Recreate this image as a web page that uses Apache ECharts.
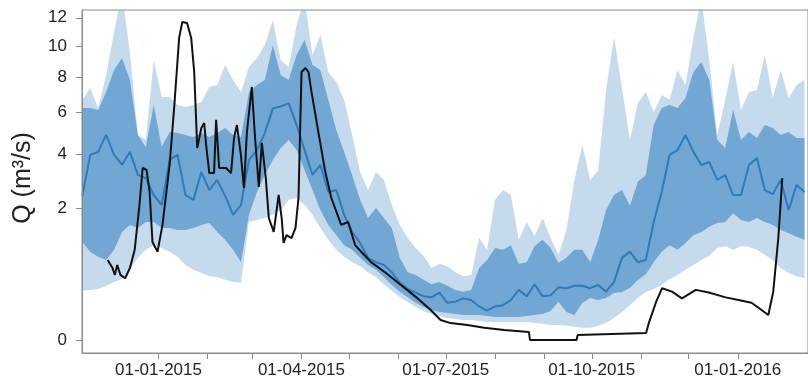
<!DOCTYPE html>
<html>
<head>
<meta charset="utf-8">
<script src="https://cdn.jsdelivr.net/npm/echarts@6/dist/echarts.min.js"></script>
<style>
html,body{margin:0;padding:0;background:#ffffff;}
#chart{width:808px;height:383px;}
</style>
</head>
<body>
<div id="chart"></div>
<script>
// x values: days since 01-01-2015
const bandDays = [-48,-43,-38,-33,-28,-23,-18,-13,-8,-3,2,7,12,17,22,27,32,37,42,47,52,57,62,67,72,77,82,87,92,97,102,107,112,117,122,127,132,137,142,147,152,157,162,167,172,177,182,187,192,197,202,207,212,217,222,227,232,237,242,247,252,257,262,267,272,277,282,287,292,297,302,307,312,317,322,327,332,337,342,347,352,357,362,367,372,377,382,387,392,397,402,407];

// outer (light) band, m3/s
const outerHigh = [6.66,7.34,6.22,8.12,10.97,14,9.52,4.86,4.62,9.06,
 6.83,6.83,6.39,6.28,6.39,6.55,7.40,7.52,8.74,7.82,
 7.11,8.62,9.19,10.06,11.84,9.06,8.62,11.47,13.5,9.39,
 10.76,8.30,7.70,6.66,4.86,3.26,2.60,3.26,2.96,2.11,
 1.53,1.20,0.98,0.82,0.60,0.67,0.63,0.53,0.47,0.49,
 1.20,0.94,2.27,2.60,2.43,1.16,1.61,1.25,1.72,1.20,
 0.84,1.40,2.96,4.40,2.96,3.34,7.23,10.61,7.34,4.62,
 6.49,7.11,6.01,6.94,6.66,8.43,7.52,10.55,13.5,9.06,
 4.86,6.66,8.94,6.12,7.11,7.23,9.39,6.77,8.43,6.77,
 7.52,7.82];
const outerLow = [0.28,0.29,0.30,0.34,0.39,0.43,0.57,0.78,0.94,1.04,
 0.98,0.90,0.80,0.65,0.57,0.52,0.47,0.46,0.42,0.39,
 0.38,1.61,1.665,1.72,1.81,1.95,2.27,2.33,2.11,1.81,
 1.45,1.16,0.94,0.80,0.70,0.63,0.53,0.46,0.36,0.28,
 0.21,0.167,0.126,0.097,0.078,0.067,0.056,0.051,0.046,0.046,
 0.042,0.037,0.037,0.037,0.037,0.037,0.037,0.033,0.030,0.026,
 0.026,0.023,0.020,0.017,0.017,0.023,0.033,0.056,0.091,0.142,
 0.204,0.266,0.30,0.35,0.43,0.49,0.57,0.65,0.74,0.82,
 0.98,1.02,0.94,1.02,1.00,0.94,0.84,0.74,0.60,0.52,
 0.47,0.44];

// inner (medium) band, m3/s
const innerHigh = [6.22,6.22,6.12,7.11,8.43,9.19,7.82,4.86,4.31,6.39,
 4.31,5.00,4.95,4.86,4.76,4.95,4.76,4.95,5.20,4.86,
 4.76,7.11,7.52,7.82,10.06,8.12,7.82,9.39,10.41,8.74,
 8.43,6.66,5.10,4.09,3.15,2.27,1.72,2.01,1.72,1.45,
 0.78,0.53,0.49,0.42,0.36,0.39,0.34,0.29,0.27,0.29,
 0.60,0.74,0.98,0.94,1.04,0.67,0.70,1.02,1.16,0.98,
 0.69,0.78,0.94,0.94,0.70,1.16,1.95,2.43,2.60,2.08,
 2.89,3.15,5.34,6.22,6.39,6.22,6.77,8.30,8.94,7.82,
 4.62,4.26,6.12,4.62,5.00,4.72,5.34,5.20,4.86,5.00,
 4.72,4.72];
const innerLow = [1.11,0.90,0.80,0.74,0.94,1.35,1.53,1.45,1.61,1.61,
 1.45,1.45,1.40,1.40,1.45,1.53,1.58,1.35,1.16,0.94,
 0.70,1.81,2.53,3.15,3.75,4.26,4.62,4.17,3.34,2.60,
 1.95,1.53,1.27,1.04,0.94,0.78,0.65,0.57,0.46,0.35,
 0.27,0.21,0.16,0.126,0.104,0.091,0.084,0.078,0.072,0.072,
 0.072,0.067,0.061,0.061,0.061,0.061,0.067,0.072,0.078,0.097,
 0.167,0.091,0.072,0.158,0.204,0.185,0.204,0.255,0.266,0.313,
 0.416,0.50,0.70,0.90,1.04,0.94,1.09,1.27,1.35,1.48,
 1.58,1.61,1.86,1.665,1.61,1.72,1.61,1.53,1.40,1.32,
 1.23,1.16];

// median, m3/s
const median = [2.40,3.96,4.09,4.86,3.96,3.55,4.09,3.15,3.03,2.43,
 2.11,3.75,3.96,2.43,2.27,3.26,2.60,2.96,2.40,1.81,
 2.11,3.75,4.17,4.95,6.20,6.30,6.49,5.34,4.17,3.15,
 3.54,2.53,2.60,1.81,1.35,1.09,0.78,0.70,0.65,0.53,
 0.38,0.30,0.26,0.22,0.21,0.26,0.16,0.17,0.20,0.185,
 0.13,0.10,0.13,0.14,0.185,0.29,0.22,0.36,0.22,0.23,
 0.32,0.31,0.34,0.34,0.31,0.35,0.27,0.39,0.78,0.90,
 0.70,0.74,1.61,2.53,3.96,4.17,4.86,4.09,3.54,3.66,
 2.96,3.15,2.43,2.43,3.54,3.83,2.60,2.46,2.96,1.95,
 2.78,2.53];

// observed discharge
const obsDays = [-32,-29,-27.5,-26,-24,-21,-18,-15,-12,-10,-7.5,-5.6,-3.8,-0.6,2.5,7,10,13,15,18,20.6,22.5,24.4,27,28.8,30,32,35,36.3,38.2,42.6,45.7,47.6,49.4,51.9,53.8,55.7,58.8,60.7,63.2,65.1,67.6,69.5,72.6,75.7,77.6,78.8,80.7,83.8,86.3,88.2,90.1,92.6,94.5,96.4,100.7,105.1,108.9,115.1,119.5,123.9,127.7,133.9,142.7,152.7,163.3,171.5,177.7,184,194.6,205.2,217.8,233.4,234,263.4,264.1,307.2,309.1,313.5,317.3,323.5,329.8,338.5,346.7,357.3,365.4,373.6,378,384.2,387.3,390.5,393];
const obsQ = [0.74,0.60,0.49,0.65,0.49,0.44,0.60,0.94,2.11,3.42,3.34,2.53,1.11,0.90,1.53,3.54,6.39,10.55,11.69,11.62,10.55,8.30,4.26,5.20,5.44,4.40,3.22,3.22,5.60,3.42,3.42,3.22,4.72,5.34,3.96,2.67,5.00,7.40,4.86,2.71,4.49,3.03,1.72,1.35,2.43,1.72,1.09,1.27,1.20,1.45,2.33,8.30,8.55,8.30,7.11,5.00,3.26,2.33,1.53,1.61,1.04,0.90,0.70,0.53,0.35,0.20,0.104,0.046,0.033,0.026,0.017,0.0116,0.0074,0,0,0.003,0.0057,0.037,0.167,0.31,0.27,0.20,0.29,0.26,0.21,0.185,0.16,0.12,0.072,0.27,1.20,3.03];

// axis ticks
const monthTickDays = [0,31,59,90,120,151,181,212,243,273,304,334,365];
const xLabelDays = [0,90,181,273,365];
const xLabels = ['01-01-2015','01-04-2015','01-07-2015','01-10-2015','01-01-2016'];
const yTickValues = [0,2,4,6,8,10,12];

const FONT = '"Liberation Sans", Arial, Helvetica, sans-serif';
const AXIS_COLOR = '#8a8a8a';
const sqrtPairs = (days, vals) => days.map((d, i) => [d, Math.sqrt(vals[i])]);
const yTicksSqrt = yTickValues.map(v => Math.sqrt(v));

function bandSeries(hi, lo, color, z) {
  return {
    type: 'custom', z: z, silent: true, clip: true,
    data: bandDays.map((d, i) => [d, Math.sqrt(hi[i]), Math.sqrt(lo[i])]),
    encode: {x: 0, y: [1, 2]},
    renderItem: function (params, api) {
      if (params.dataIndex !== 0) return null;
      const pts = [];
      for (let i = 0; i < bandDays.length; i++) pts.push(api.coord([bandDays[i], Math.sqrt(hi[i])]));
      for (let i = bandDays.length - 1; i >= 0; i--) pts.push(api.coord([bandDays[i], Math.sqrt(lo[i])]));
      const cs = params.coordSys;
      return {
        type: 'polygon', shape: {points: pts}, style: {fill: color, stroke: null},
        clipPath: {type: 'rect', shape: {x: cs.x, y: cs.y, width: cs.width, height: cs.height}}
      };
    }
  };
}

const chart = echarts.init(document.getElementById('chart'), null, {renderer: 'canvas'});
chart.setOption({
  animation: false,
  backgroundColor: '#ffffff',
  grid: {left: 82, right: -5, top: 10, bottom: 30, show: true, borderColor: AXIS_COLOR, borderWidth: 1, z: 10},
  xAxis: {
    type: 'value', min: -48.2, max: 409.2, z: 10,
    axisLine: {show: true, onZero: false, lineStyle: {color: AXIS_COLOR, width: 1}},
    axisTick: {show: true, customValues: monthTickDays, length: 6, lineStyle: {color: AXIS_COLOR}},
    axisLabel: {show: true, customValues: xLabelDays, margin: 9, fontSize: 17, fontFamily: FONT, color: '#222',
      formatter: v => { const k = xLabelDays.indexOf(v); return k >= 0 ? xLabels[k] : ''; }},
    splitLine: {show: false}
  },
  yAxis: {
    type: 'value', min: -0.14, max: 3.548, z: 10,
    axisLine: {show: true, onZero: false, lineStyle: {color: AXIS_COLOR, width: 1}},
    axisTick: {show: true, customValues: yTicksSqrt, length: 6, lineStyle: {color: AXIS_COLOR}},
    axisLabel: {show: true, customValues: yTicksSqrt, margin: 15, fontSize: 17, fontFamily: FONT, color: '#222',
      formatter: v => String(Math.round(v * v))},
    splitLine: {show: false}
  },
  graphic: [{
    type: 'text', x: 23, y: 178, rotation: Math.PI / 2,
    style: {text: 'Q (m³/s)', fontSize: 25, fontFamily: FONT, fill: '#222', align: 'center', verticalAlign: 'middle'}
  }],
  series: [
    bandSeries(outerHigh, outerLow, '#c6daee', 1),
    bandSeries(innerHigh, innerLow, '#72a7d3', 2),
    {type: 'line', data: sqrtPairs(bandDays, median), showSymbol: false, lineStyle: {width: 2, color: '#2e7bbb'}, z: 3},
    {type: 'line', data: sqrtPairs(obsDays, obsQ), showSymbol: false, lineStyle: {width: 2, color: '#111111'}, z: 4}
  ]
});
</script>
</body>
</html>
